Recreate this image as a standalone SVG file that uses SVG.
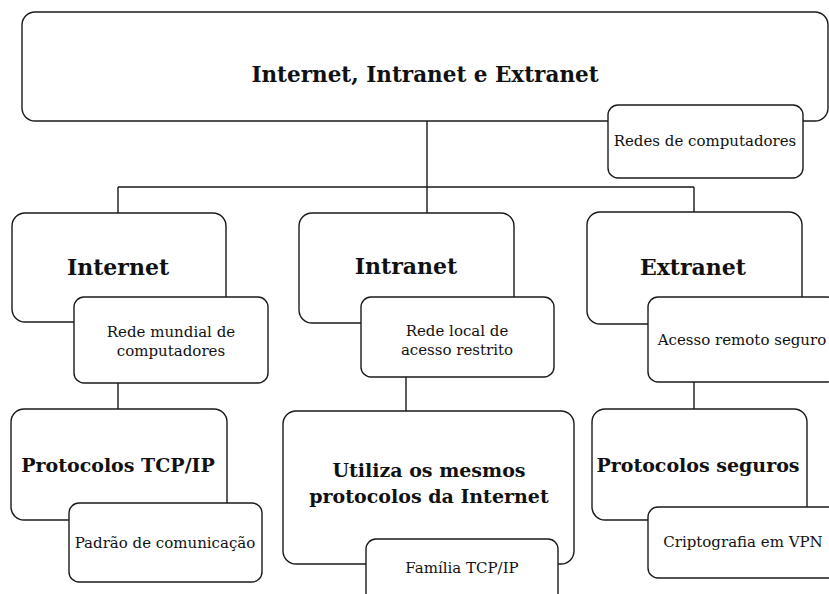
<svg xmlns="http://www.w3.org/2000/svg" width="829" height="594" viewBox="0 0 829 594">
<style>
.box{fill:#fff;stroke:#1a1a1a;stroke-width:1.4}
.con{fill:none;stroke:#1a1a1a;stroke-width:1.4}
.t{font-family:"DejaVu Serif","Liberation Serif",serif;font-weight:bold;fill:#111;text-anchor:middle}
.s{font-family:"DejaVu Serif","Liberation Serif",serif;font-size:15px;fill:#111;text-anchor:middle}
</style>
<rect width="829" height="594" fill="#fff"/>
<g id="connectors">
<path class="con" d="M427 121V187M118 187H694M118 187V213M427 187V213M694 187V212M118 383V409M406 377V411M694 382V409"/>
</g>
<g id="root">
<rect class="box" x="22" y="12" width="806" height="109" rx="13"/>
<text class="t" x="425" y="82" font-size="21.5">Internet, Intranet e Extranet</text>
</g>
<g id="root-note">
<rect class="box" x="608" y="105" width="195" height="73" rx="10"/>
<text class="s" x="705" y="146">Redes de computadores</text>
</g>
<g id="internet">
<rect class="box" x="12" y="213" width="214" height="109" rx="13"/>
<text class="t" x="118" y="275" font-size="22">Internet</text>
</g>
<g id="internet-note">
<rect class="box" x="74" y="297" width="194" height="86" rx="10"/>
<text class="s" x="171" y="337">Rede mundial de</text>
<text class="s" x="171" y="356">computadores</text>
</g>
<g id="intranet">
<rect class="box" x="299" y="213" width="215" height="110" rx="13"/>
<text class="t" x="406" y="274" font-size="22">Intranet</text>
</g>
<g id="intranet-note">
<rect class="box" x="361" y="297" width="193" height="80" rx="10"/>
<text class="s" x="457" y="336">Rede local de</text>
<text class="s" x="457" y="355">acesso restrito</text>
</g>
<g id="extranet">
<rect class="box" x="587" y="212" width="215" height="112" rx="13"/>
<text class="t" x="693" y="275" font-size="22">Extranet</text>
</g>
<g id="extranet-note">
<rect class="box" x="648" y="297" width="189" height="85" rx="10"/>
<text class="s" x="742" y="345">Acesso remoto seguro</text>
</g>
<g id="tcpip">
<rect class="box" x="11" y="409" width="216" height="111" rx="13"/>
<text class="t" x="118" y="472" font-size="19">Protocolos TCP/IP</text>
</g>
<g id="tcpip-note">
<rect class="box" x="69" y="503" width="193" height="79" rx="10"/>
<text class="s" x="165" y="548">Padrão de comunicação</text>
</g>
<g id="mesmos">
<rect class="box" x="283" y="411" width="291" height="153" rx="13"/>
<text class="t" x="429" y="477" font-size="19">Utiliza os mesmos</text>
<text class="t" x="429" y="503" font-size="19">protocolos da Internet</text>
</g>
<g id="mesmos-note">
<rect class="box" x="366" y="539" width="192" height="75" rx="10"/>
<text class="s" x="462" y="573">Família TCP/IP</text>
</g>
<g id="seguros">
<rect class="box" x="592" y="409" width="215" height="111" rx="13"/>
<text class="t" x="698" y="472" font-size="19">Protocolos seguros</text>
</g>
<g id="seguros-note">
<rect class="box" x="648" y="507" width="190" height="71" rx="10"/>
<text class="s" x="743" y="547">Criptografia em VPN</text>
</g>
</svg>
